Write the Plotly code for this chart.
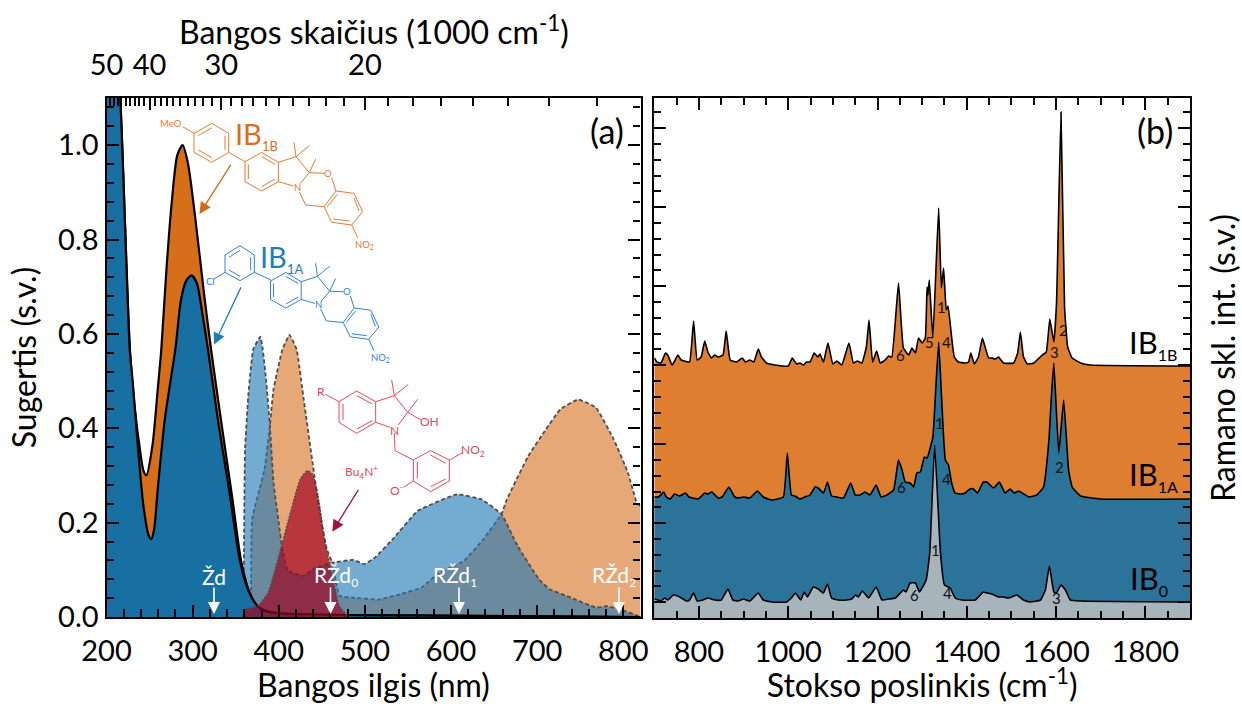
import plotly.graph_objects as go

W, H = 1242, 704
FONT = "Lato"

# ---------- panel (a): absorption, nm ----------
abs1b_nm = [200, 216, 227.2, 232.6, 238.8, 242.9, 246.2, 253.3, 259.5, 263.6, 269.8, 276, 282.2, 288.4, 294.6, 302.9, 313.2, 321.5, 333.9, 346.3, 356.7, 367, 377.3, 400, 478.7, 820]
abs1b_val = [1.6, 1.10, .567, .447, .355, .31, .30, .363, .483, .567, .742, .884, .979, 1.0, .961, .848, .686, .566, .405, .249, .115, .048, .02, .008, .004, 0]
abs1a_nm = [200, 216, 227, 230.5, 236.7, 242.9, 249.1, 252, 255.3, 259.5, 267.7, 280.1, 286.4, 292.6, 298.8, 305, 311.2, 317.8, 329.8, 342.2, 354.6, 364.9, 375.3, 383.5, 400, 478.7, 820]
abs1a_val = [1.6, 1.10, .567, .497, .355, .235, .172, .165, .186, .271, .419, .57, .672, .713, .724, .707, .644, .567, .412, .271, .122, .055, .023, .013, .008, .004, 0]

blue_nm = [358.5, 359.6, 360.8, 364.9, 370.3, 378.6, 381.5, 385.6, 389.7, 393.9, 400, 404.2, 410.4, 429, 439.4, 462.1, 486.9, 499.3, 511.7, 532.4, 561.4, 606.9, 635.8, 658.6, 677.2, 702, 714.4, 739.2, 768.2, 780.6, 801.2, 817.8, 820]
blue_val = [0, .143, .355, .476, .567, .594, .567, .497, .405, .285, .2, .143, .098, .087, .101, .115, .121, .112, .126, .165, .225, .26, .249, .218, .151, .08, .059, .041, .02, .023, .013, .002, 0]
orange_nm = [367.8, 369.1, 383.5, 389.7, 393.9, 404.2, 412.5, 420.8, 429, 441.4, 449.7, 455.9, 462.1, 470.4, 486.9, 515.9, 540.7, 565.5, 586.2, 615.1, 635.8, 658.6, 664.8, 689.6, 710.3, 726.8, 747.5, 768.2, 788.8, 805.4, 815.7, 820]
orange_val = [0, .207, .313, .405, .483, .567, .598, .567, .461, .299, .2, .143, .115, .045, .041, .037, .048, .062, .094, .119, .161, .218, .249, .341, .398, .44, .461, .444, .377, .306, .242, .235]
red_nm = [358.7, 360.8, 375.3, 387.7, 400.1, 412.5, 424.9, 433.2, 439.4, 445.6, 453.8, 462.1, 470.4, 480.7, 487]
red_val = [0, .016, .023, .052, .129, .214, .292, .31, .302, .257, .158, .087, .023, .002, 0]

x_major_a = [200, 300, 400, 500, 600, 700, 800]
top_labelled = [50, 40, 30, 20]
top_minor = list(range(13, 50))

# ---------- panel (b): Raman, cm-1 ----------
r1b_x = [700,706,715,725,730,740,753,760,768,779,788,796,805,813,820,828,835,843,854,861,870,884,897,904,914,923,933,940,951,970,1000,1009,1019,1026,1034,1041,1049,1058,1066,1071,1079,1089,1100,1109,1120,1136,1146,1155,1165,1175,1181,1189,1198,1206,1217,1225,1232,1247,1258,1270,1277,1285,1292,1300,1307,1311,1313,1316,1324,1337,1343,1348,1354,1358,1366,1372,1381,1396,1404,1409,1417,1426,1435,1441,1449,1456,1464,1471,1482,1505,1514,1520,1527,1536,1550,1569,1578,1586,1595,1601,1611,1619,1626,1636,1655,1677,1900]
r1b_y = [260,256,255,265,263,253,263,258,257,256,297,258,261,277,266,260,263,261,263,287,258,256,260,256,258,256,269,261,255,253,252,260,254,255,253,256,256,265,261,264,256,275,254,257,253,275,255,257,255,271,298,256,267,255,258,262,261,335,270,263,270,265,280,275,280,331,323,338,280,410,330,350,308,312,281,261,256,255,256,265,254,261,280,271,260,260,259,261,255,255,265,286,261,254,255,263,266,299,276,315,506,311,271,260,255,253,252]
r1a_x = [700,710,721,727,736,745,757,770,778,798,813,820,829,843,852,867,880,888,899,914,931,944,963,989,998,1007,1015,1026,1037,1049,1060,1067,1079,1088,1097,1109,1124,1140,1150,1161,1172,1183,1197,1208,1221,1236,1247,1255,1262,1273,1281,1288,1296,1305,1311,1324,1330,1337,1343,1352,1359,1366,1374,1389,1396,1407,1415,1424,1437,1445,1460,1473,1486,1497,1506,1516,1539,1557,1572,1584,1590,1595,1606,1617,1628,1636,1655,1700,1900]
r1a_y = [121,121,126,121,119,124,122,125,121,119,125,124,126,120,121,131,121,120,121,120,127,121,118,121,165,123,122,119,121,123,131,130,125,136,122,121,120,135,123,123,126,123,133,121,123,128,158,148,136,135,131,145,146,161,160,181,225,276,225,158,153,135,125,124,125,129,129,125,136,136,130,136,125,129,125,127,121,123,131,178,225,255,165,218,148,131,122,119,119]
r0_x = [700,708,715,723,730,743,757,772,779,788,796,809,820,835,850,865,876,888,900,914,933,944,963,996,1007,1016,1028,1036,1043,1056,1067,1079,1088,1097,1112,1131,1142,1151,1157,1166,1180,1197,1210,1225,1240,1258,1264,1273,1285,1294,1309,1317,1328,1341,1350,1359,1363,1374,1389,1419,1437,1445,1456,1471,1482,1494,1512,1527,1542,1565,1576,1585,1595,1601,1611,1621,1632,1655,1900]
r0_y = [19,18,17,20,18,23,21,17,18,25,17,18,20,18,18,29,18,17,19,17,25,18,16,16,20,25,18,26,21,31,29,25,34,20,18,18,19,23,21,27,20,31,18,19,20,28,26,35,35,26,38,65,173,65,33,31,30,20,18,18,26,25,24,21,21,20,23,18,16,18,28,52,26,25,33,28,18,17,16]

x_major_b = [800, 1000, 1200, 1400, 1600, 1800]

# ---------- colours ----------
C_OR, C_BL = "rgb(214,110,26)", "rgb(24,112,162)"
A_OR, A_BL, A_RD = "rgba(214,110,26,0.6)", "rgba(31,119,180,0.62)", "rgba(161,0,31,0.67)"
DASH = "#4d4d4d"
M_OR, M_BL, M_RD = "#EA7A30", "#2F80E4", "#E8495A"


def px(x, y):
    return x / W, 1 - y / H


fig = go.Figure()
# panel (a): excited-state bands first, absorption on top, red band last
fig.add_trace(go.Scatter(x=orange_nm, y=orange_val, mode="lines", fill="tozeroy", fillcolor=A_OR,
                         line=dict(color=DASH, width=1.8, dash="4px,2.5px", shape="spline", smoothing=0.3), xaxis="x", yaxis="y"))
fig.add_trace(go.Scatter(x=blue_nm, y=blue_val, mode="lines", fill="tozeroy", fillcolor=A_BL,
                         line=dict(color=DASH, width=1.8, dash="4px,2.5px", shape="spline", smoothing=0.3), xaxis="x", yaxis="y"))
fig.add_trace(go.Scatter(x=abs1b_nm, y=abs1b_val, mode="lines", fill="tozeroy", fillcolor=C_OR,
                         line=dict(color="black", width=2.2, shape="spline", smoothing=0.7), xaxis="x", yaxis="y"))
fig.add_trace(go.Scatter(x=abs1a_nm, y=abs1a_val, mode="lines", fill="tozeroy", fillcolor=C_BL,
                         line=dict(color="black", width=2.2, shape="spline", smoothing=0.7), xaxis="x", yaxis="y"))
fig.add_trace(go.Scatter(x=red_nm, y=red_val, mode="lines", fill="tozeroy", fillcolor=A_RD,
                         line=dict(color=DASH, width=1.4, dash="2px,1.5px", shape="spline", smoothing=0.5), xaxis="x", yaxis="y"))
# carries the wavenumber axis (same data as the absorption curve, not drawn)
fig.add_trace(go.Scatter(x=abs1a_nm, y=abs1a_val, mode="lines", line=dict(width=0), opacity=0, hoverinfo="skip",
                         xaxis="x3", yaxis="y"))
# panel (b)
for xs, ys, col in [(r1b_x, r1b_y, "rgb(222,126,48)"), (r1a_x, r1a_y, "rgb(44,115,153)"), (r0_x, r0_y, "rgb(167,180,188)")]:
    fig.add_trace(go.Scatter(x=xs, y=ys, mode="lines", fill="tozeroy", fillcolor=col,
                             line=dict(color="black", width=1.6, shape="spline", smoothing=0.35), xaxis="x2", yaxis="y2"))

tf = dict(family=FONT, size=29, color="black")
tit = dict(family=FONT, size=32, color="black")
common = dict(showline=True, linecolor="black", linewidth=2.2, ticks="inside", tickcolor="black", automargin=False,
              tickwidth=2, showgrid=False, zeroline=False, tickfont=tf)


def mn(**kw):
    return dict(ticks="inside", tickcolor="black", tickwidth=2, showgrid=False, **kw)


fig.update_layout(
    template="none", width=W, height=H, autosize=False, margin=dict(l=0, r=0, t=0, b=0, pad=0), paper_bgcolor="white",
    plot_bgcolor="white", showlegend=False, font=dict(family=FONT),
    xaxis=dict(domain=[106.5 / W, 640.5 / W], range=[200, 820], anchor="y", tickvals=x_major_a,
               ticklen=12, mirror=True, minor=mn(dtick=20, ticklen=8), ticklabelstandoff=7,
               title=dict(text="Bangos ilgis (nm)", font=tit, standoff=4), **common),
    yaxis=dict(domain=[1 - 617 / H, 1 - 98 / H], range=[0, 1.1], anchor="x", tickvals=[0, .2, .4, .6, .8, 1.0],
               ticktext=["0.0", "0.2", "0.4", "0.6", "0.8", "1.0"], ticklen=12, mirror="ticks",
               minor=mn(dtick=.04, ticklen=7),
               title=dict(text="Sugertis (s.v.)", font=tit, standoff=12), **common),
    xaxis3=dict(overlaying="x", anchor="y", side="top", range=[200, 820],
                tickvals=[1e4 / k for k in top_labelled], ticktext=[str(k) for k in top_labelled],
                ticklen=12, ticklabelstandoff=9,
                minor=mn(tickvals=[1e4 / k for k in top_minor], ticklen=8), **common),
    xaxis2=dict(domain=[654.3 / W, 1190 / W], range=[700, 1900], anchor="y2", tickvals=x_major_b,
                ticklen=12, mirror="ticks", minor=mn(dtick=50, ticklen=7), ticklabelstandoff=7,
                title=dict(text="Stokso poslinkis (cm<sup>-1</sup>)", font=tit, standoff=4), **common),
    yaxis2=dict(domain=[1 - 618 / H, 1 - 98 / H], range=[0, 520], anchor="x2", side="right", tick0=15.7, dtick=79,
                ticklen=12, mirror="ticks", showticklabels=False, minor=mn(tick0=0, dtick=15.8, ticklen=7),
                title=dict(text="Ramano skl. int. (s.v.)", font=tit, standoff=24), **common),
)

ann = []


def text(t, x, y, size, color, **kw):
    X, Y = px(x, y)
    ann.append(dict(text=t, x=X, y=Y, xref="paper", yref="paper", showarrow=False, xanchor=kw.get("xa", "center"),
                    yanchor="middle", font=dict(family=FONT, size=size, color=color)))


def arrow(x0, y0, x1, y1, color, width=1.3, size=1.6):
    X, Y = px(x1, y1)
    ann.append(dict(text="", x=X, y=Y, ax=x0 - x1, ay=y0 - y1, xref="paper", yref="paper", axref="pixel", ayref="pixel",
                    showarrow=True, arrowhead=2, arrowsize=size, arrowwidth=width, arrowcolor=color))


def sub(base, s, px_size):
    return f'{base}<sub><span style="font-size:{px_size}px">{s}</span></sub>'


text("Bangos skaičius (1000 cm<sup>-1</sup>)", 374, 30, 32, "black")
text("(a)", 607, 131, 34, "black")
text("(b)", 1155, 131, 34, "black")
text(sub("IB", "1B", 16), 1153, 343, 31, "black")
text(sub("IB", "1A", 16), 1153, 475, 31, "black")
text(sub("IB", "0", 16), 1149, 579, 31, "black")
for t, x, y in [("1", 941.7, 306.7), ("5", 929.3, 342.3), ("4", 946, 342), ("6", 900, 355), ("2", 1063.3, 330), ("3", 1054, 352.3),
                ("1", 939.3, 423.3), ("6", 901.7, 486.7), ("4", 946.7, 479.3), ("2", 1059.3, 466.7),
                ("1", 935, 550), ("6", 914, 595), ("4", 947.7, 593), ("3", 1056.7, 598.3)]:
    text(t, x, y, 15, "#111111")

for t, x in [("Žd", 214), (sub("RŽd", "0", 12), 336), (sub("RŽd", "1", 12), 455), (sub("RŽd", "2", 12), 614)]:
    text(t, x, 576, 21, "white")
for x in [214, 330.5, 459, 619]:
    arrow(x, 586, x, 614, "white", width=1.6, size=1.5)

arrow(231.7, 163.3, 199.5, 214, "#D66A14", 1.3, 1.8)
arrow(241.7, 285.7, 214, 344.5, "#1B7DB0", 1.3, 1.8)
arrow(359.3, 488.3, 332.3, 531.7, "#A3123A", 1.3, 1.8)

text(sub("IB", "1B", 13), 256, 135, 29, "#DD6E1E")
text(sub("IB", "1A", 13), 281, 258, 29, "#1F80B8")

# --- structural formula decoration, in picture pixels ---
shapes = []


def line_path(pts, color, ox, oy, s=1 / 3, close=False):
    P = []
    for i, (a, b) in enumerate(pts):
        X, Y = px(ox + s * a, oy + s * b)
        P.append(("M" if i == 0 else "L") + f"{X:.5f},{Y:.5f}")
    path = " ".join(P) + (" Z" if close else "")
    shapes.append(dict(type="path", path=path, xref="paper", yref="paper", layer="above",
                       line=dict(color=color, width=1)))


core_rings = [[(285, 170), (335, 142), (385, 172), (385, 230), (335, 258), (285, 230)],
              [(558, 258), (612, 265), (638, 320), (605, 360), (545, 352), (522, 305)]]
core_segs = [[(295, 178), (295, 222)], [(335, 155), (375, 178)], [(335, 245), (375, 222)],
             [(385, 172), (438, 155), (478, 203), (450, 236)], [(385, 230), (430, 243)],
             [(438, 155), (432, 112)], [(438, 155), (478, 122)], [(478, 203), (497, 162)],
             [(478, 203), (522, 205)], [(545, 218), (558, 258)], [(448, 260), (467, 300), (522, 305)],
             [(612, 278), (627, 318)], [(598, 348), (550, 342)], [(532, 305), (562, 268)], [(605, 360), (623, 398)]]


def core(color, ox, oy, s):
    for r in core_rings:
        line_path(r, color, ox, oy, s, close=True)
    for g in core_segs:
        line_path(g, color, ox, oy, s)
    for t, a, b, sz in [("O", 534, 205, 9.5), ("N", 441, 248, 9.5), ("NO<sub>2</sub>", 645, 420, 9.5)]:
        text(t, ox + s * a, oy + s * b, sz, color)


core(M_OR, 150, 105, 1 / 3)
line_path([(132, 85), (185, 55), (236, 85), (236, 142), (185, 172), (132, 142)], M_OR, 150, 105, close=True)
for g in [[(145, 92), (185, 68)], [(225, 92), (225, 135)], [(145, 135), (185, 158)], [(98, 65), (132, 85)], [(236, 142), (285, 170)]]:
    line_path(g, M_OR, 150, 105)
text("MeO", 150 + 62 / 3, 105 + 55 / 3, 9.5, M_OR)

core(M_BL, 183.1, 228.9, .3067)
line_path([(75, 60), (120, 32), (163, 60), (163, 112), (120, 137), (75, 112)], M_BL, 200, 235, close=True)
for g in [[(87, 67), (120, 46)], [(152, 67), (152, 105)], [(87, 105), (120, 124)], [(75, 112), (42, 132)], [(163, 112), (213, 135)]]:
    line_path(g, M_BL, 200, 235)
text("Cl", 200 + 30 / 3, 235 + 140 / 3, 9.5, M_BL)

line_path([(72, 65), (125, 33), (182, 65), (182, 127), (125, 160), (72, 127)], M_RD, 315, 380, close=True)
line_path([(295, 240), (347, 212), (403, 240), (403, 303), (347, 335), (295, 303)], M_RD, 315, 380, close=True)
for g in [[(84, 72), (84, 120)], [(125, 47), (172, 72)], [(125, 147), (172, 122)], [(30, 42), (72, 65)],
          [(182, 65), (238, 47), (278, 97), (250, 135)], [(182, 127), (225, 142)],
          [(238, 47), (230, 0)], [(238, 47), (280, 13)], [(278, 97), (308, 58)], [(278, 97), (318, 120)],
          [(238, 160), (240, 212), (295, 240)], [(307, 247), (307, 295)], [(347, 225), (392, 250)], [(347, 320), (392, 297)],
          [(403, 240), (443, 218)], [(295, 303), (265, 322)]]:
    line_path(g, M_RD, 315, 380)
for t, a, b, sz in [("R", 17, 33, 12), ("OH", 342, 125, 12), ("N", 238, 150, 12), ("NO<sub>2</sub>", 475, 212, 12),
                    ("O<sup>-</sup>", 245, 330, 12), ("Bu<sub>4</sub>N<sup>+</sup>", 138, 275, 12)]:
    text(t, 315 + a / 3, 380 + b / 3, sz, M_RD)

fig.update_layout(annotations=ann, shapes=shapes)
fig.write_html("out.html", config=dict(displayModeBar=False),
               post_script="document.body.style.margin='0';document.body.style.overflow='hidden';")
